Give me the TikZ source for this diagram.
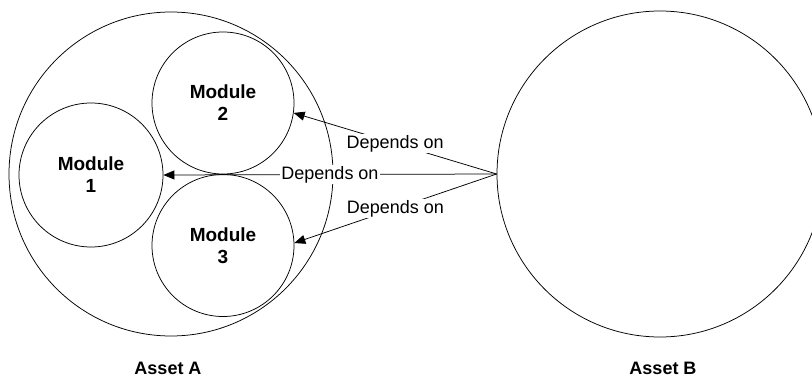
\documentclass[tikz,border=0pt]{standalone}
\usepackage{fontspec}
\setmainfont{Liberation Sans}
\usetikzlibrary{arrows.meta}
\begin{document}
\begin{tikzpicture}[x=1pt,y=-1pt,
  ring/.style={draw, circle, line width=0.75pt, inner sep=0pt, align=center,
    font=\fontsize{19}{22}\selectfont\bfseries},
  dep/.style={draw, line width=0.75pt, -{Triangle[length=11pt,width=9pt]}},
  deplabel/.style={fill=white, inner sep=1pt, font=\fontsize{18}{22}\selectfont},
  caption/.style={font=\fontsize{18}{22}\selectfont\bfseries}]
  \useasboundingbox (0,0) rectangle (812,377);
  \clip (0,0) rectangle (812,377);

  % assets
  \node[ring, minimum size=324pt] (A) at (171,174) {};
  \node[ring, minimum size=326pt] (B) at (660,174) {};

  % modules inside asset A
  \node[ring, minimum size=144pt] (M1) at (91,175) {Module\\1};
  \node[ring, minimum size=142pt] (M2) at (223,103) {Module\\2};
  \node[ring, minimum size=142pt] (M3) at (223,245.5) {Module\\3};

  % dependencies
  \draw[dep] (B.west) -- (M2.-8) node[midway, deplabel] (d2) {Depends on};
  \draw[dep] (B.west) -- (M1.east) node[midway, deplabel] (d1) {Depends on};
  \draw[dep] (B.west) -- (M3.2) node[midway, deplabel] (d3) {Depends on};

  % captions
  \node[caption] (capA) at (168,368) {Asset A};
  \node[caption] (capB) at (663,368) {Asset B};
\end{tikzpicture}
\end{document}
